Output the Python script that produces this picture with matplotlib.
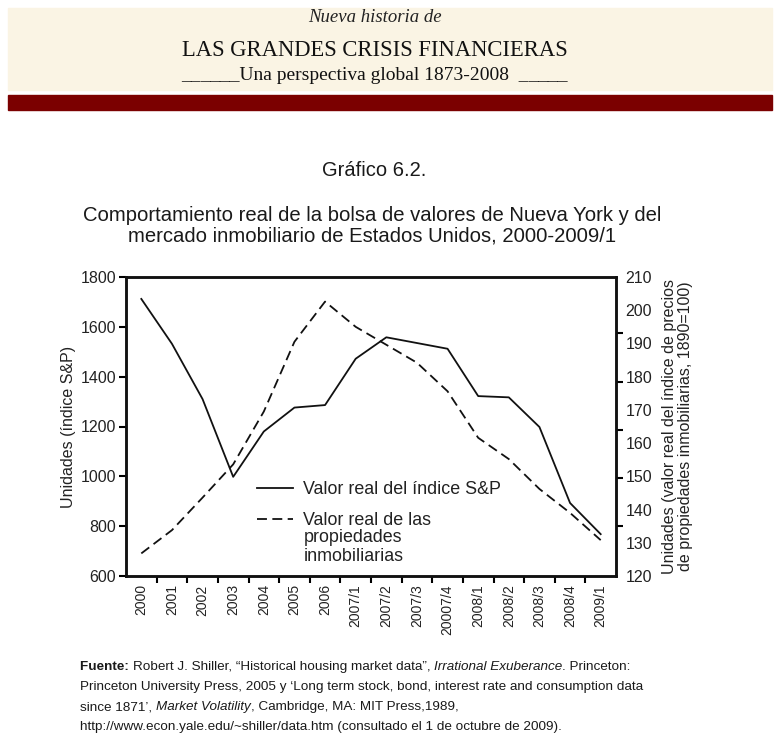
import numpy as np
import matplotlib.pyplot as plt
from matplotlib.patches import Rectangle

# ----------------------------
# DATA
# ----------------------------
periods = ["2000", "2001", "2002", "2003", "2004", "2005", "2006",
           "2007/1", "2007/2", "2007/3", "20007/4",
           "2008/1", "2008/2", "2008/3", "2008/4", "2009/1"]
sp_real = [1712, 1532, 1310, 998, 1180, 1276, 1286,
           1472, 1558, 1535, 1512,
           1322, 1317, 1198, 893, 768]
housing_real = [126.8, 133.8, 143.6, 153.6, 169.5, 190.5, 202.6,
                195.0, 189.6, 184.2, 175.6,
                161.6, 155.2, 146.2, 139.0, 130.8]

left_ticks = [600, 800, 1000, 1200, 1400, 1600, 1800]
right_labels = [120, 130, 140, 150, 160, 170, 180, 190, 200, 210]
right_marks = [120, 135, 149.5, 164, 178.5, 193, 210]

sans = ["Liberation Sans", "DejaVu Sans"]
narrow = ["Liberation Sans Narrow", "Liberation Sans", "DejaVu Sans"]
serif = ["Liberation Serif", "DejaVu Serif"]
plt.rcParams["font.family"] = sans

fig = plt.figure(figsize=(7.82, 7.54), dpi=100)
W, H = 782.0, 754.0

# ----------------------------
# HEADER
# ----------------------------
fig.patches.append(Rectangle((8 / W, 1 - 90 / H), 764 / W, 82 / H,
                             transform=fig.transFigure, color="#faf4e4", zorder=0))
fig.patches.append(Rectangle((8 / W, 1 - 110 / H), 764 / W, 15 / H,
                             transform=fig.transFigure, color="#7b0000", zorder=0))
fig.text(375 / W, 1 - 18 / H, "Nueva historia de", family=serif, style="italic",
         fontsize=13.5, ha="center", va="center", color="#222222")
fig.text(375 / W, 1 - 50 / H, "LAS GRANDES CRISIS FINANCIERAS", family=serif,
         fontsize=16.3, ha="center", va="center", color="#111111")
fig.text(374 / W, 1 - 75 / H, "______Una perspectiva global 1873-2008  _____",
         family=serif, fontsize=14, ha="center", va="center", color="#111111")

# ----------------------------
# TITLES
# ----------------------------
fig.text(374 / W, 1 - 170 / H, "Gráfico 6.2.", fontsize=14.5, ha="center",
         va="center", color="#1a1a1a")
fig.text(372 / W, 1 - 225.5 / H,
         "Comportamiento real de la bolsa de valores de Nueva York y del\n"
         "mercado inmobiliario de Estados Unidos, 2000-2009/1",
         fontsize=14.6, ha="center", va="center", linespacing=1.1, color="#1a1a1a")

# ----------------------------
# AXES
# ----------------------------
ax = fig.add_axes([126 / W, 1 - 576 / H, 490 / W, 299 / H])
ax2 = ax.twinx()
x = np.arange(len(periods))

ln1, = ax.plot(x, sp_real, color="#111111", lw=1.3)
ln2, = ax2.plot(x, housing_real, color="#111111", lw=1.3, ls=(0, (5.5, 3)))

ax.set_xlim(-0.5, len(periods) - 0.5)
ax.set_ylim(600, 1800)
ax2.set_ylim(120, 210)

ax.set_yticks(left_ticks)
ax.tick_params(axis="y", direction="out", length=5, width=1.5, labelsize=11.5,
               labelcolor="#222222", pad=2)
ax.set_xticks(x)
ax.set_xticklabels(periods, rotation=90, fontsize=10, color="#222222")
ax.set_xticks(np.arange(0.5, len(periods) - 0.5), minor=True)
ax.tick_params(axis="x", which="major", length=0, pad=6)
ax.tick_params(axis="x", which="minor", direction="out", length=5, width=1.5)

ax2.set_yticks(right_labels)
ax2.tick_params(axis="y", which="major", length=0, labelsize=11.5,
                labelcolor="#222222", pad=7)
ax2.set_yticks(right_marks, minor=True)
ax2.tick_params(axis="y", which="minor", direction="out", length=5, width=1.5)

for a in (ax, ax2):
    for s in a.spines.values():
        s.set_linewidth(1.8)
        s.set_color("#111111")

ax.set_ylabel("Unidades (índice S&P)", fontsize=11.5, color="#222222", labelpad=3)
ax2.set_ylabel("Unidades (valor real del índice de precios\n"
               "de propiedades inmobiliarias, 1890=100)",
               fontsize=11.5, color="#222222", labelpad=7, linespacing=1.05)

# legend
leg = ax.legend([ln1, ln2], ["Valor real del índice S&P", "Valor real de las"],
                loc="upper left", bbox_to_anchor=(0.267, 0.318), frameon=False,
                fontsize=12.9, handlelength=2.0, handletextpad=0.6,
                labelspacing=0.8, borderaxespad=0, borderpad=0)
for t in leg.get_texts():
    t.set_color("#222222")
ax.annotate("propiedades\ninmobiliarias", xy=(0, 0), xycoords=leg.get_texts()[1],
            xytext=(0, 0), textcoords="offset points", ha="left", va="top",
            fontsize=12.9, color="#222222", linespacing=1.1)

# ----------------------------
# FOOTER (mixed styles)
# ----------------------------
fig.canvas.draw()
renderer = fig.canvas.get_renderer()


def rich_line(parts, x0, y0):
    xx = x0
    for s, wt, st in parts:
        t = fig.text(xx, y0, s, family=narrow, fontsize=9.7, fontweight=wt,
                     fontstyle=st, va="baseline", ha="left", color="#1a1a1a")
        bb = t.get_window_extent(renderer)
        xx += bb.width / fig.bbox.width


lines = [
    [("Fuente: ", "bold", "normal"),
     ("Robert J. Shiller, \u201cHistorical housing market data\u201d, ", "normal", "normal"),
     ("Irrational Exuberance", "normal", "italic"),
     (". Princeton:", "normal", "normal")],
    [("Princeton University Press, 2005 y \u2018Long term stock, bond, interest rate and "
      "consumption data", "normal", "normal")],
    [("since 1871\u2019, ", "normal", "normal"), ("Market Volatility", "normal", "italic"),
     (", Cambridge, MA: MIT Press,1989,", "normal", "normal")],
    [("http://www.econ.yale.edu/~shiller/data.htm (consultado el 1 de octubre de 2009).",
      "normal", "normal")],
]
for i, parts in enumerate(lines):
    rich_line(parts, 80 / W, 1 - (670 + 20 * i) / H)

fig.savefig("out.png", dpi=100)
